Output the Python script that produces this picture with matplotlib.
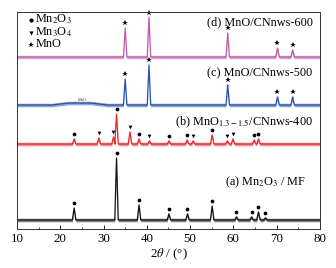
import numpy as np
import matplotlib
matplotlib.use("Agg")
from matplotlib import pyplot as plt

plt.rcParams['font.family'] = ['Liberation Serif', 'DejaVu Serif']
plt.rcParams['mathtext.fontset'] = 'stix'

# y values are in arbitrary offset units (stacked patterns)
# peak lists: (2theta, peak top, marker)  marker: o = Mn2O3, v = Mn3O4, * = MnO
a_base = 9
a_peaks = [(23.2, 21, 'o'), (33.0, 71, 'o'), (38.2, 24, 'o'), (45.1, 15, 'o'),
           (49.4, 15, 'o'), (55.1, 23, 'o'), (60.7, 12, 'o'), (64.2, 12, 'o'),
           (65.8, 17, 'o'), (67.4, 11, 'o')]

b_base = 85
b_peaks = [(23.2, 90, 'o'), (28.9, 91, 'v'), (32.3, 92, 'v'), (33.0, 115, 'o'),
           (36.1, 97, 'v'), (38.2, 90, 'o'), (40.6, 88, 'v'), (45.1, 88, 'o'),
           (49.3, 89, 'o'), (50.7, 88, 'v'), (55.1, 94, 'o'), (58.6, 88, 'v'),
           (59.9, 90, 'v'), (64.8, 89, 'o'), (65.8, 90, 'o')]

c_base = 124
c_hump = [(10, 124), (18, 124), (22, 126), (27, 126), (31, 124)]
c_peaks = [(35.0, 150, '*'), (40.5, 164, '*'), (58.7, 144, '*'),
           (70.2, 132, '*'), (73.7, 132, '*')]

d_base = 172
d_peaks = [(35.0, 201, '*'), (40.5, 212, '*'), (58.7, 196, '*'),
           (70.2, 181, '*'), (73.7, 179, '*')]

labels = ["(a) Mn$_2$O$_3$ / MF", "(b) MnO$_{1.3-1.5}$/CNnws-400",
          "(c) MnO/CNnws-500", "(d) MnO/CNnws-600"]
colors = ['#111111', '#e8282a', '#2850a8', '#bf5aa6']


def trace(base, peaks, start=None):
    # join baseline and peak tops into one polyline
    xs, ys = [10], [base]
    if start:
        xs, ys = [p[0] for p in start], [p[1] for p in start]
    for pos, top, _ in peaks:
        xs += [pos - 0.4, pos, pos + 0.4]
        ys += [base, top, base]
    xs.append(80)
    ys.append(base)
    return np.array(xs), np.array(ys)


fig = plt.figure(figsize=(3.36, 2.68), dpi=100)
ax = fig.add_axes([0.0506, 0.1455, 0.9014, 0.8095])

sets = [(a_base, a_peaks, None), (b_base, b_peaks, None),
        (c_base, c_peaks, c_hump), (d_base, d_peaks, None)]
for (base, peaks, start), col in zip(sets, colors):
    x, y = trace(base, peaks, start)
    ax.fill_between(x, y - 1.8, y + 1.8, color=col, alpha=0.5, lw=0)
    ax.plot(x, y, color=col, lw=0.9)
    for pos, top, m in peaks:
        ms = 4.0 if m == '*' else 2.7
        ax.plot(pos, min(top + 5, 216), marker=m, color='k', ms=ms, mew=0,
                ls='none', clip_on=False)

# sample labels
fs = 8.8
ax.text(78.3, 201, labels[3], ha='right', va='bottom', fontsize=fs)
ax.text(78.3, 150, labels[2], ha='right', va='bottom', fontsize=fs)
ax.text(78.3, 99, labels[1], ha='right', va='bottom', fontsize=fs)
ax.text(76.8, 39, labels[0], ha='right', va='bottom', fontsize=fs)
ax.text(25.0, 128, "MnO", fontsize=3, color='#333333', ha='center')

# legend of phase markers
leg = [('o', "Mn$_2$O$_3$", 210, 3.0), ('v', "Mn$_3$O$_4$", 197, 3.0), ('*', "MnO", 185, 4.3)]
for m, txt, yy, ms in leg:
    ax.plot(13.3, yy - 1, marker=m, color='k', ms=ms, mew=0, ls='none')
    ax.text(14.2, yy, txt, fontsize=fs, va='center', ha='left')

ax.set_xlim(10, 80)
ax.set_ylim(0, 217)
ax.set_yticks([])
ax.set_xticks(np.arange(10, 81, 10))
ax.set_xticks(np.arange(10, 81, 5), minor=True)
ax.tick_params(axis='x', direction='in', length=3, width=0.6, labelsize=9.3, pad=3)
ax.tick_params(axis='x', which='minor', direction='in', length=1.5, width=0.5)
for s in ax.spines.values():
    s.set_linewidth(0.7)
    s.set_color('#333333')
ax.set_xlabel(r"2$\theta$ / (°)", fontsize=9.3, labelpad=1)

fig.savefig("out.png", dpi=100)
